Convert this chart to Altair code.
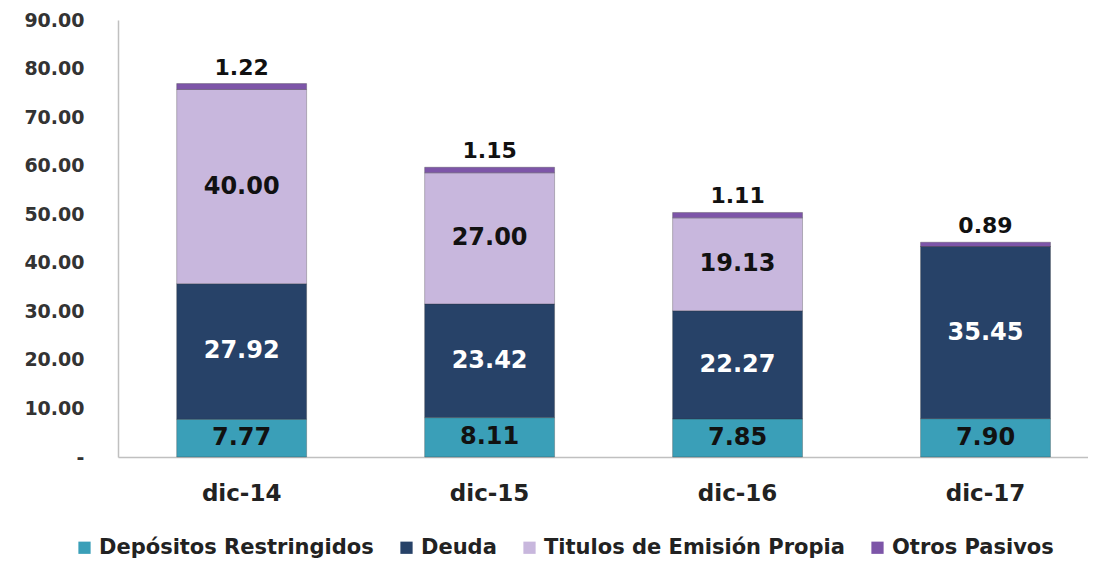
import altair as alt
import pandas as pd

categories = ["dic-14", "dic-15", "dic-16", "dic-17"]
series = ["Depósitos Restringidos", "Deuda", "Titulos de Emisión Propia", "Otros Pasivos"]
depositos = [7.77, 8.11, 7.85, 7.90]
deuda = [27.92, 23.42, 22.27, 35.45]
titulos = [40.00, 27.00, 19.13, 0.00]
otros = [1.22, 1.15, 1.11, 0.89]
colors = ["#3a9fb8", "#274268", "#c8b7dd", "#7d55a8"]
y_ticks = [0, 10, 20, 30, 40, 50, 60, 70, 80, 90]

rows = []
for si, (name, vals) in enumerate(zip(series, [depositos, deuda, titulos, otros])):
    for cat, v in zip(categories, vals):
        rows.append({"cat": cat, "serie": name, "order": si, "value": v})
df = pd.DataFrame(rows)

FONT = "DejaVu Sans"

base = alt.Chart(df).transform_stack(
    stack="value", groupby=["cat"], as_=["y0", "y1"], sort=[alt.SortField("order", "ascending")]
).transform_calculate(mid="(datum.y0 + datum.y1) / 2")

xenc = alt.X(
    "cat:N",
    sort=categories,
    title=None,
    scale=alt.Scale(paddingInner=0.476, paddingOuter=0.194, align=0.61),
    axis=alt.Axis(
        labelAngle=0, labelFont=FONT, labelFontSize=23, labelFontWeight="bold",
        labelColor="#222222", labelPadding=25, ticks=False,
        domainColor="#c0c0c0", domainWidth=1.5,
    ),
)
yscale = alt.Scale(domain=[0, 90], nice=False)

bars = base.mark_bar(stroke="#333333", strokeWidth=0.6, strokeOpacity=0.5).encode(
    x=xenc,
    y=alt.Y(
        "y0:Q", scale=yscale, title=None,
        axis=alt.Axis(
            values=y_ticks, labelExpr="datum.value == 0 ? '-' : format(datum.value, '.2f')",
            labelFont=FONT, labelFontSize=19, labelFontWeight="bold", labelColor="#333333",
            labelPadding=34, ticks=False, grid=False, domainColor="#c0c0c0", domainWidth=1.5,
        ),
    ),
    y2="y1:Q",
    color=alt.Color(
        "serie:N",
        scale=alt.Scale(domain=series, range=colors),
        legend=alt.Legend(
            title=None, orient="none", direction="horizontal", legendX=-44, legendY=517,
            symbolType="square", symbolSize=150, symbolStrokeWidth=0,
            labelFont=FONT, labelFontSize=21, labelFontWeight="bold", labelColor="#222222",
            columnPadding=22, labelOffset=4, labelLimit=0,
        ),
    ),
)

inner = base.transform_filter(
    "datum.order < 3 && datum.value > 0"
).mark_text(font=FONT, fontSize=24, fontWeight="bold", baseline="middle").encode(
    x=alt.X("cat:N", sort=categories),
    y=alt.Y("mid:Q", scale=yscale),
    text=alt.Text("value:Q", format=".2f"),
    color=alt.condition("datum.order == 1", alt.value("#ffffff"), alt.value("#111111")),
)

top = base.transform_filter("datum.order == 3").mark_text(
    font=FONT, fontSize=22, fontWeight="bold", baseline="bottom", dy=-4, color="#111111"
).encode(
    x=alt.X("cat:N", sort=categories),
    y=alt.Y("y1:Q", scale=yscale),
    text=alt.Text("value:Q", format=".2f"),
)

chart = alt.layer(bars, inner, top).properties(
    width=970, height=437,
    autosize=alt.AutoSizeParams(type="none"),
    padding={"left": 110, "top": 12, "right": 0, "bottom": 104},
    background="#ffffff",
).configure_view(stroke=None)

chart.save("out.html", embed_options={"renderer": "svg", "actions": False})
